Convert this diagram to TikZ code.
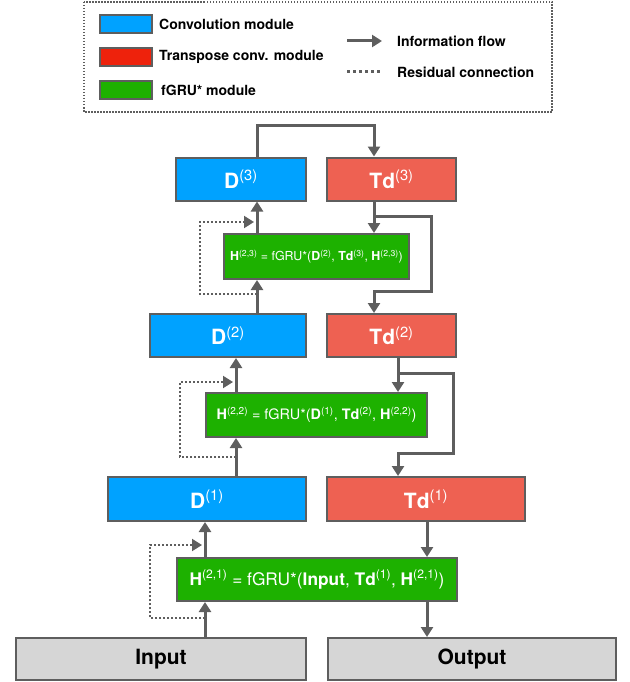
\documentclass[tikz,border=0pt]{standalone}
\usepackage{fontspec}
\setmainfont{TeX Gyre Heros}
\usetikzlibrary{arrows.meta}
\definecolor{convblue}{RGB}{0,162,255}
\definecolor{tdred}{RGB}{238,97,82}
\definecolor{legred}{RGB}{238,34,12}
\definecolor{fgrugreen}{RGB}{29,177,0}
\definecolor{iogray}{RGB}{214,214,214}
\definecolor{linegray}{RGB}{94,94,94}
\newcommand{\bsup}[2]{\textbf{#1}\textsuperscript{#2}}
\tikzset{
    module/.style={draw=linegray, line width=2pt, inner sep=0pt, minimum height=43pt},
    conv/.style={module, fill=convblue, text=white, font=\fontsize{21}{24}\selectfont},
    tconv/.style={module, fill=tdred, text=white, font=\fontsize{21}{24}\selectfont},
    fgru/.style={module, fill=fgrugreen, text=white},
    io/.style={module, fill=iogray, text=black, font=\fontsize{21}{24}\selectfont\bfseries},
    swatch/.style={draw=linegray, line width=2pt, minimum width=52pt, minimum height=18pt, inner sep=0pt},
    legtext/.style={anchor=west, inner sep=0pt, font=\fontsize{14}{16}\selectfont\bfseries},
    flow/.style={->, draw=linegray, line width=3pt},
    resid/.style={->, draw=linegray, line width=2pt, dash pattern=on 2pt off 2pt}
}
\begin{document}
\begin{tikzpicture}[>={Triangle[width=12pt,length=10pt]}, x=1pt, y=-1pt]
    \useasboundingbox (0,0) rectangle (629,682);

    % legend
    \draw[linegray, line width=1.5pt, dash pattern=on 1.5pt off 1.5pt] (84,2) rectangle (552,112);
    \node[swatch, fill=convblue] (sconv) at (126,24) {};
    \node[swatch, fill=legred] (stconv) at (126,57) {};
    \node[swatch, fill=fgrugreen] (sfgru) at (126,90) {};
    \node[legtext] (lconv) at (159,24) {Convolution module};
    \node[legtext] (ltconv) at (159,57) {Transpose conv. module};
    \node[legtext] (lfgru) at (161,90) {fGRU* module};
    \coordinate (lfa) at (347,41);
    \coordinate (lfb) at (382,41);
    \coordinate (lra) at (347,72);
    \coordinate (lrb) at (382,72);
    \draw[flow] (lfa) -- (lfb);
    \draw[linegray, line width=3pt, dash pattern=on 3pt off 3pt] (lra) -- (lrb);
    \node[legtext] (lflow) at (397,41) {Information flow};
    \node[legtext] (lresid) at (397,72) {Residual connection};

    % modules
    \node[conv, minimum width=130pt] (d3) at (241,179) {\bsup{D}{(3)}};
    \node[tconv, minimum width=129pt] (td3) at (391.5,179) {\bsup{Td}{(3)}};
    \node[fgru, minimum width=185pt, minimum height=45pt, font=\fontsize{12.4}{14}\selectfont] (h23) at (316.5,256.5)
        {\bsup{H}{(2,3)} = fGRU*(\bsup{D}{(2)}, \bsup{Td}{(3)}, \bsup{H}{(2,3)})};
    \node[conv, minimum width=156pt] (d2) at (228,335.5) {\bsup{D}{(2)}};
    \node[tconv, minimum width=129pt] (td2) at (391.5,335.5) {\bsup{Td}{(2)}};
    \node[fgru, minimum width=221pt, minimum height=44pt, font=\fontsize{14.4}{16}\selectfont] (h22) at (316.5,415)
        {\bsup{H}{(2,2)} = fGRU*(\bsup{D}{(1)}, \bsup{Td}{(2)}, \bsup{H}{(2,2)})};
    \node[conv, minimum width=198pt, minimum height=44pt] (d1) at (207,499) {\bsup{D}{(1)}};
    \node[tconv, minimum width=198pt, minimum height=44pt] (td1) at (426,499) {\bsup{Td}{(1)}};
    \node[fgru, minimum width=280pt, minimum height=43pt, font=\fontsize{17.3}{19}\selectfont] (h21) at (317,579.5)
        {\bsup{H}{(2,1)} = fGRU*(\textbf{Input}, \bsup{Td}{(1)}, \bsup{H}{(2,1)})};
    \node[io, minimum width=290pt, minimum height=42pt] (input) at (161,659) {Input};
    \node[io, minimum width=288pt, minimum height=42pt] (output) at (472,659) {Output};

    % columns of the connectors
    \coordinate (c1) at (205,0);
    \coordinate (c2) at (236,0);
    \coordinate (c3) at (257,0);
    \coordinate (c4) at (374,0);
    \coordinate (c5) at (398,0);
    \coordinate (c6) at (427,0);

    % bottom-up path
    \draw[flow] (input.north -| c1) -- (h21.south -| c1);
    \draw[flow] (h21.north -| c1) -- (d1.south -| c1);
    \draw[flow] (d1.north -| c2) -- (h22.south -| c2);
    \draw[flow] (h22.north -| c2) -- (d2.south -| c2);
    \draw[flow] (d2.north -| c3) -- (h23.south -| c3);
    \draw[flow] (h23.north -| c3) -- (d3.south -| c3);
    \draw[flow] (d3.north -| c3) -- ++(0,-31) -| (td3.north -| c4);

    % top-down path
    \coordinate (b3) at (374,216);
    \coordinate (b2) at (398,373);
    \draw[flow] (td3.south -| c4) -- (h23.north -| c4);
    \draw[flow] (b3) -- ++(57,0) -- ++(0,75) -- ++(-57,0) -- (td2.north -| c4);
    \draw[flow] (td2.south -| c5) -- (h22.north -| c5);
    \draw[flow] (b2) -- ++(55,0) -- ++(0,80) -- ++(-55,0) -- (td1.north -| c5);
    \draw[flow] (td1.south -| c6) -- (h21.north -| c6);
    \draw[flow] (h21.south -| c6) -- (output.north -| c6);

    % residual connections
    \coordinate (r1s) at (205,618);
    \coordinate (r1e) at (202,545);
    \coordinate (r2s) at (236,457);
    \coordinate (r2e) at (233,382);
    \coordinate (r3s) at (257,294);
    \coordinate (r3e) at (254,222);
    \draw[resid] (r1s) -- ++(-55,0) |- (r1e);
    \draw[resid] (r2s) -- ++(-56,0) |- (r2e);
    \draw[resid] (r3s) -- ++(-57,0) |- (r3e);
\end{tikzpicture}
\end{document}
